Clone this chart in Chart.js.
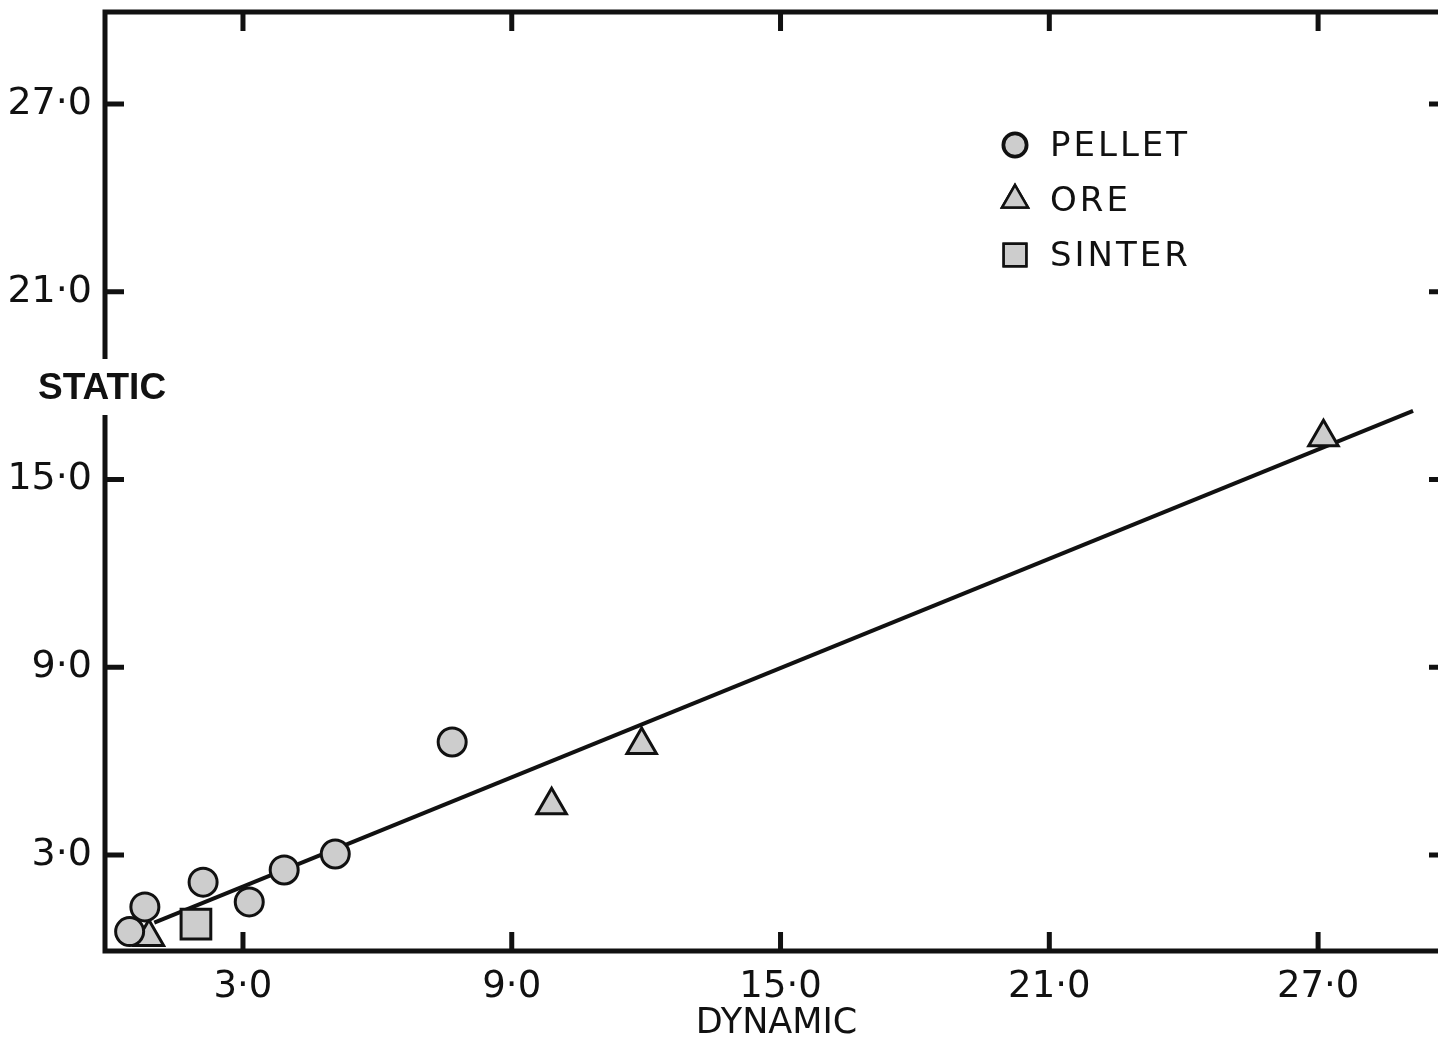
<!DOCTYPE html>
<html lang="en">
<head>
    <meta charset="UTF-8">
    <script src="https://cdn.jsdelivr.net/npm/chart.js"></script>
    <title>Static vs Dynamic</title>
    <style>
        body { margin: 0; background: #fff; overflow: hidden; }
        #wrap { width: 1452px; height: 1045px; }
    </style>
</head>
<body>
    <div id="wrap">
        <canvas id="chart" width="1452" height="1045"></canvas>
    </div>

    <script>
        // values
        const xTicks = [3, 9, 15, 21, 27];
        const yTicks = [3, 9, 15, 21, 27];

        const pelletX = [0.47, 0.81, 2.11, 3.14, 3.92, 5.06, 7.67];
        const pelletY = [0.55, 1.34, 2.13, 1.5, 2.52, 3.03, 6.61];

        const oreX = [0.9, 9.89, 11.9, 27.12];
        const oreY = [0.38, 4.59, 6.51, 16.35];

        const sinterX = [1.95];
        const sinterY = [0.79];

        // fitted line, end points
        const fitX = [1.02, 29.12];
        const fitY = [0.84, 17.19];

        const toPts = (xs, ys) => xs.map((x, i) => ({ x: x, y: ys[i] }));
        const fmt = v => v.toFixed(1).replace('.', '\u00b7');

        const FONT = "'DejaVu Sans', sans-serif";
        const INK = '#111';
        const MARK_FILL = '#cdcdcd';

        const datasets = [
            {
                label: 'PELLET',
                data: toPts(pelletX, pelletY),
                pointStyle: 'circle',
                pointRadius: 14,
                backgroundColor: MARK_FILL,
                borderColor: INK,
                borderWidth: 3,
            },
            {
                label: 'ORE',
                data: toPts(oreX, oreY),
                pointStyle: 'triangle',
                pointRadius: 17,
                backgroundColor: MARK_FILL,
                borderColor: INK,
                borderWidth: 3,
            },
            {
                label: 'SINTER',
                data: toPts(sinterX, sinterY),
                pointStyle: 'rect',
                pointRadius: 21,
                backgroundColor: MARK_FILL,
                borderColor: INK,
                borderWidth: 3,
            },
            {
                label: 'fit',
                type: 'line',
                data: toPts(fitX, fitY),
                borderColor: INK,
                borderWidth: 4,
                pointRadius: 0,
                fill: false,
                order: 10,
            },
        ];

        // frame, inward ticks on all four sides, STATIC label, legend
        const framePlugin = {
            id: 'frame',
            afterDraw(chart) {
                const ctx = chart.ctx;
                const a = chart.chartArea;
                const xs = chart.scales.x;
                const ys = chart.scales.y;
                ctx.save();
                ctx.strokeStyle = INK;
                ctx.lineWidth = 5;
                ctx.strokeRect(a.left, a.top, a.right - a.left, a.bottom - a.top);

                ctx.lineWidth = 5;
                const len = 19;
                ctx.beginPath();
                xTicks.forEach(v => {
                    const px = xs.getPixelForValue(v);
                    ctx.moveTo(px, a.bottom);
                    ctx.lineTo(px, a.bottom - len);
                    ctx.moveTo(px, a.top);
                    ctx.lineTo(px, a.top + len);
                });
                yTicks.forEach(v => {
                    const py = ys.getPixelForValue(v);
                    ctx.moveTo(a.left, py);
                    ctx.lineTo(a.left + len, py);
                    ctx.moveTo(a.right, py);
                    ctx.lineTo(a.right - len, py);
                });
                ctx.stroke();

                // the axis line is broken where the STATIC label sits
                ctx.fillStyle = '#fff';
                ctx.fillRect(a.left - 5, 359, 10, 56);
                ctx.fillStyle = INK;
                ctx.font = "bold 37px 'Liberation Sans', sans-serif";
                ctx.textAlign = 'left';
                ctx.textBaseline = 'middle';
                ctx.fillText('STATIC', 38, 389);

                // legend
                const lx = 1015, rows = [145, 200, 255];
                const legendR = { circle: 11, triangle: 15, rect: 16 };
                ctx.font = '34px ' + FONT;
                ctx.letterSpacing = '3px';
                chart.data.datasets.slice(0, 3).forEach((ds, i) => {
                    const y = rows[i];
                    Chart.helpers.drawPoint(ctx, {
                        pointStyle: ds.pointStyle,
                        radius: legendR[ds.pointStyle],
                        borderWidth: 2,
                        rotation: 0,
                    }, lx, y);
                    ctx.fillStyle = MARK_FILL;
                    ctx.strokeStyle = INK;
                    ctx.lineWidth = 2.5;
                    ctx.fill();
                    ctx.stroke();
                    ctx.fillStyle = INK;
                    ctx.fillText(ds.label, 1050, y + 2);
                });
                ctx.restore();
            }
        };

        const ctx = document.getElementById('chart').getContext('2d');
        const chart = new Chart(ctx, {
            type: 'scatter',
            data: { datasets: datasets },
            plugins: [framePlugin],
            options: {
                responsive: false,
                animation: false,
                devicePixelRatio: 1,
                layout: { autoPadding: false, padding: { top: 12, right: 4, left: 0, bottom: 0 } },
                plugins: {
                    legend: { display: false },
                    tooltip: { enabled: false },
                },
                scales: {
                    x: {
                        type: 'linear',
                        min: -0.08,
                        max: 29.9,
                        grid: { display: false, drawTicks: false },
                        border: { display: false },
                        afterBuildTicks: s => { s.ticks = xTicks.map(v => ({ value: v })); },
                        afterFit: s => {
                            s.height = 94;
                            s.paddingLeft = 0;
                            s.paddingRight = 0;
                        },
                        ticks: {
                            color: INK,
                            padding: 14,
                            font: { family: FONT, size: 37 },
                            callback: v => fmt(v),
                        },
                        title: {
                            display: true,
                            text: 'DYNAMIC',
                            color: INK,
                            padding: { top: 0, bottom: 0 },
                            font: { family: FONT, size: 35 },
                        },
                    },
                    y: {
                        type: 'linear',
                        min: -0.07,
                        max: 29.94,
                        grid: { display: false, drawTicks: false },
                        border: { display: false },
                        afterBuildTicks: s => { s.ticks = yTicks.map(v => ({ value: v })); },
                        afterFit: s => {
                            s.width = 105;
                            s.paddingTop = 0;
                            s.paddingBottom = 0;
                        },
                        ticks: {
                            color: INK,
                            padding: 13,
                            font: { family: FONT, size: 38 },
                            callback: v => fmt(v),
                        },
                    },
                },
            },
        });
    </script>
</body>
</html>
